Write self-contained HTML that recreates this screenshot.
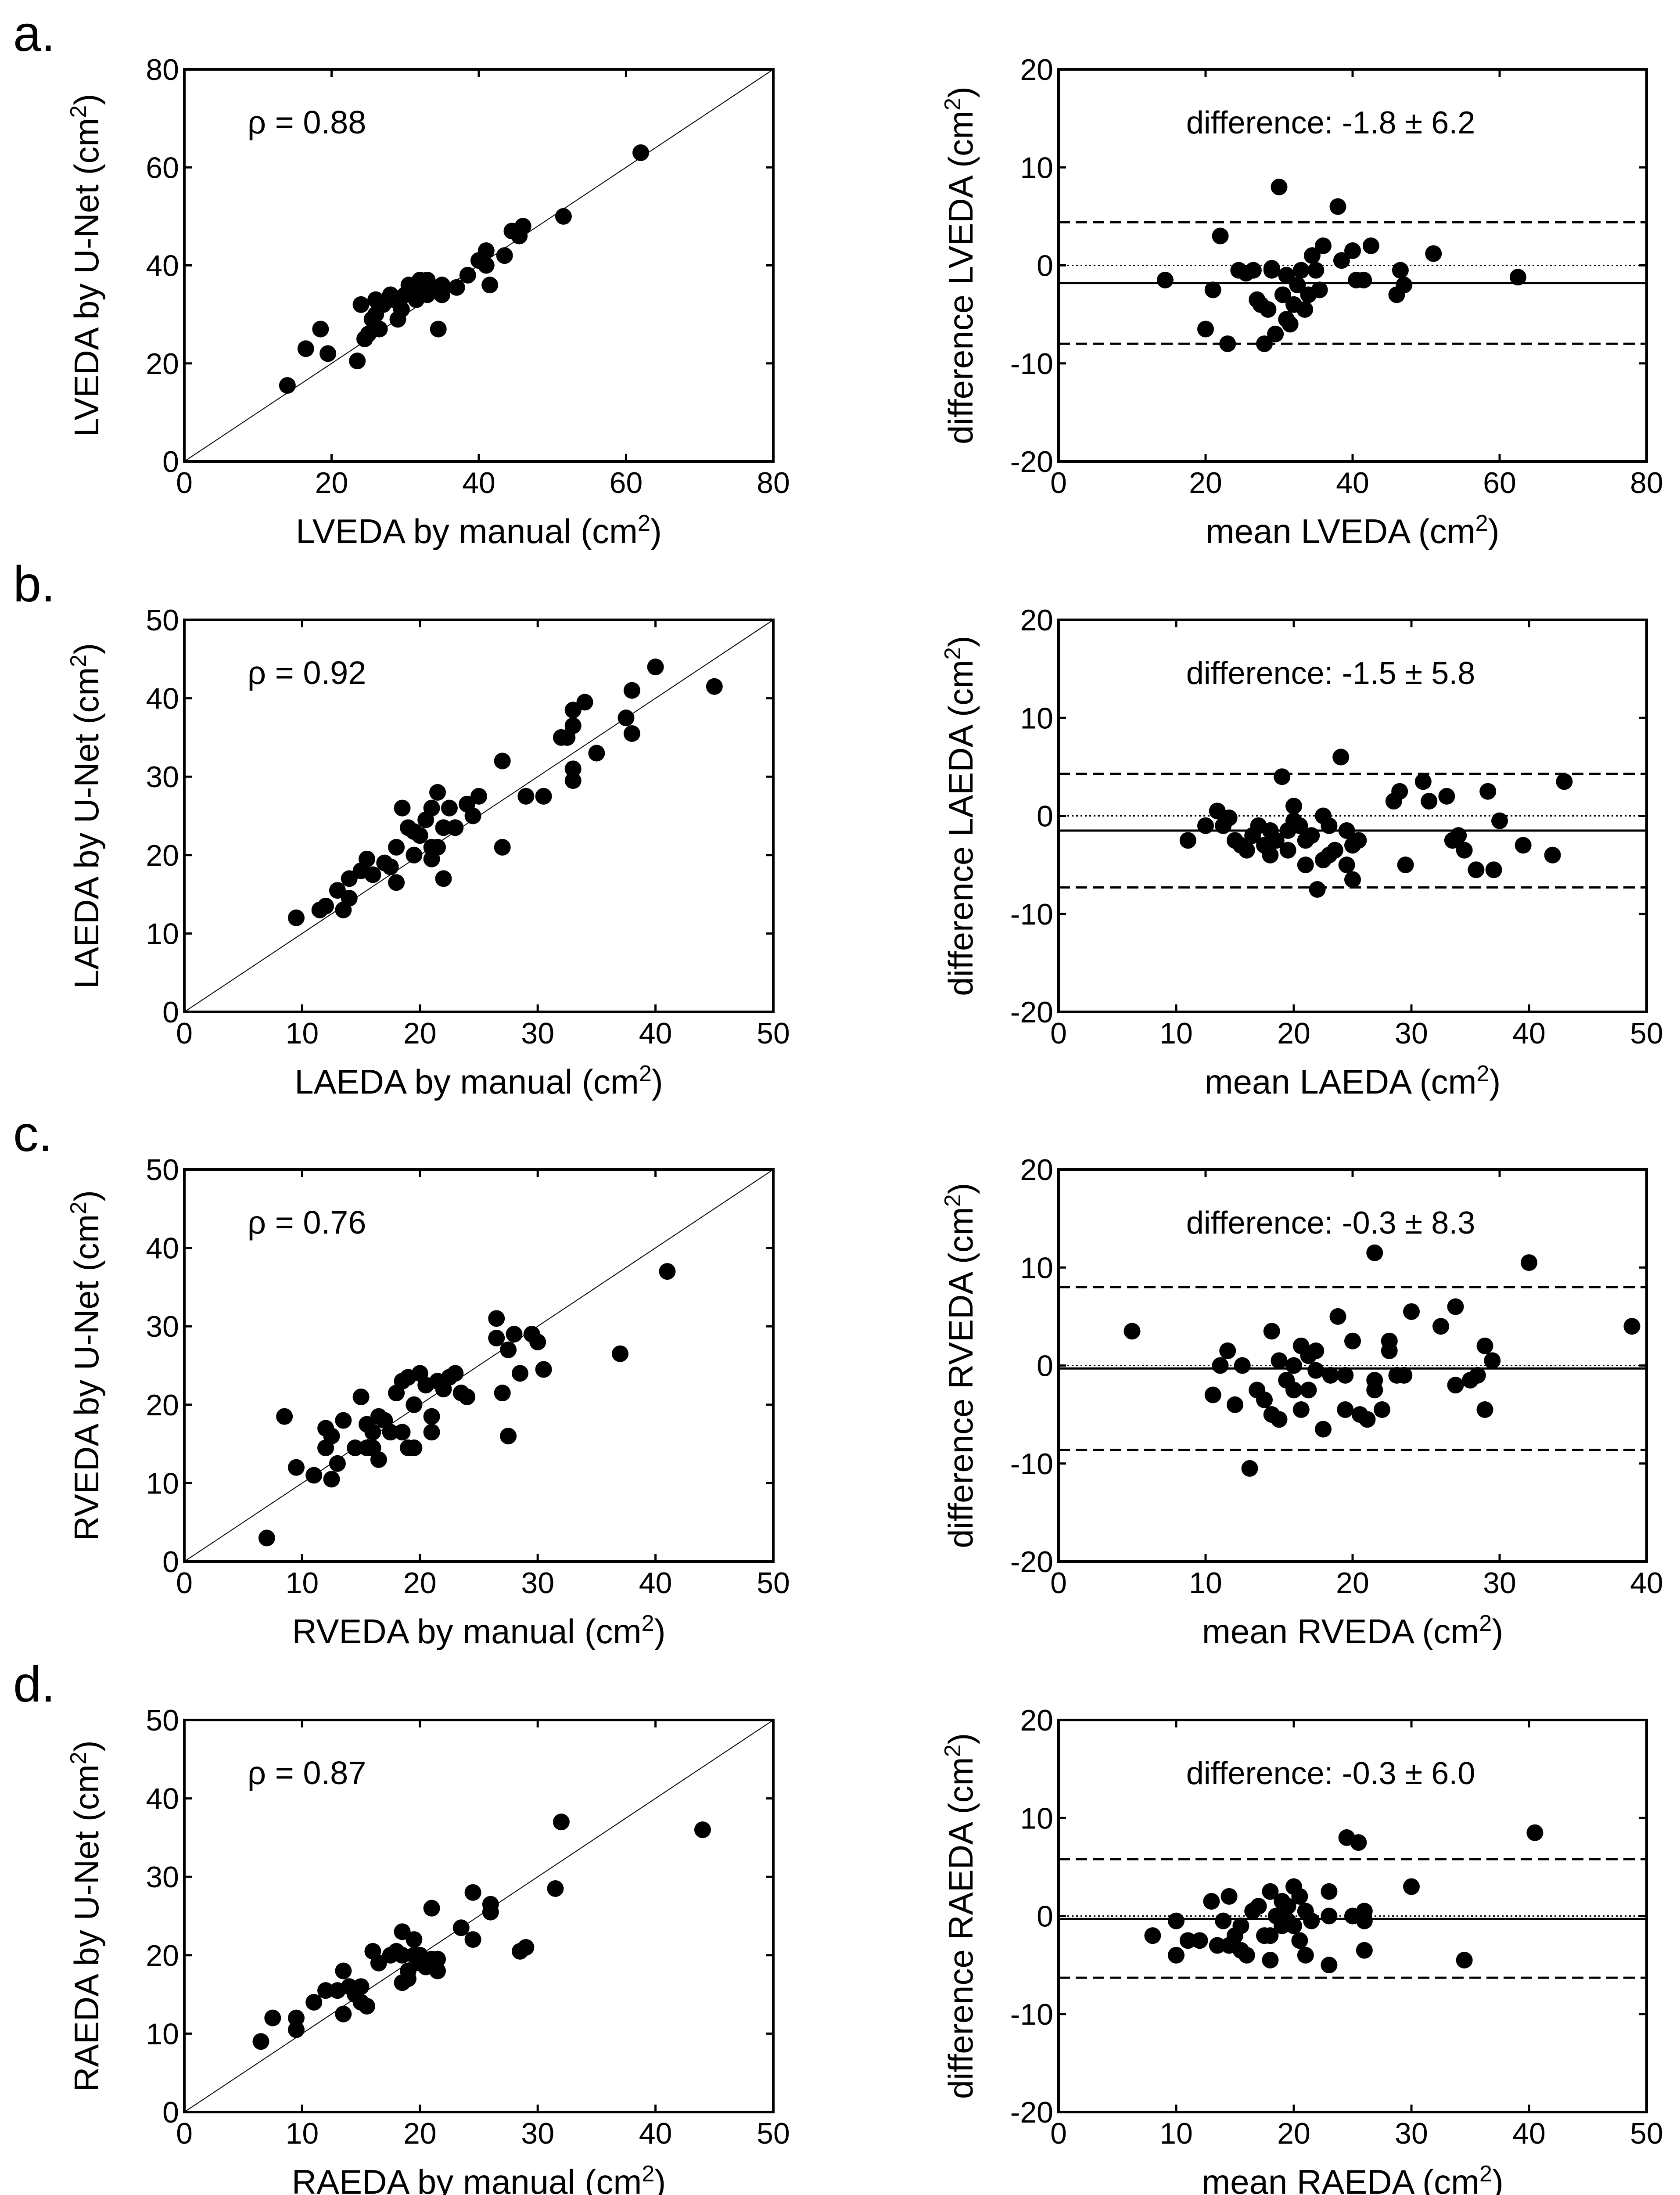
<!DOCTYPE html>
<html><head><meta charset="utf-8">
<style>
html,body{margin:0;padding:0;background:#fff;}
svg{display:block;font-family:"Liberation Sans",Arial,sans-serif;}
</style></head>
<body>
<svg id="fig" width="3828" height="5057" viewBox="0 0 3828 5057" xmlns="http://www.w3.org/2000/svg">
<rect width="3828" height="5057" fill="#fff"/>
</svg>
<script>
// ---- data ----
const aCorrX=[14,16.5,18.5,19.5,23.5,24,24.5,25,25.5,26,26,26.5,27,28,28.5,29,29.5,30,30.5,31,31.5,32,32.5,33,33,34,34.5,35,35,37,38.5,40,41,41,41.5,43.5,44.5,46,45.5,51.5,62];
const aCorrY=[15.5,23,27,22,20.5,32,25,26,29,33,30,27,32,34,33,29,31,34,36,35,33,37,36,34,37,35,27,36,34,35.5,38,41,43,40,36,42,47,48,46,50,63];
const aBaX=[14.5,20,21,22,23,24.5,25.5,26.5,27,28,28.5,29,29.5,30,30.5,31,31,31.5,32,32.5,33,33.5,34,34.5,35,35.5,36,38,38.5,40,40.5,41.5,42.5,46,46.5,47,51,62.5,27.5,29];
const aBaY=[-1.5,-6.5,-2.5,3,-8,-0.5,-0.8,-0.5,-3.5,-8,-4.5,-0.3,-7,8,-3,-1,-5.5,-6,-4,-2,-0.5,-4.5,-3,1,-0.5,-2.5,2,6,0.5,1.5,-1.5,-1.5,2,-3,-0.5,-2,1.2,-1.2,-4,-0.5];
const bCorrX=[9.5,11.5,12,13,13.5,14,14,15,15.5,16,17,17.5,18,18,18.5,19,19.5,20,20.5,21,21,21,21.5,22,22,22.5,23,24,24.5,25,27,27,29,30.5,32,32.5,33,33,33,33,34,35,37.5,38,38,40,45,21.5,19.5];
const bCorrY=[12,13,13.5,15.5,13,14.5,17,18,19.5,17.5,19,18.5,16.5,21,26,23.5,20,22.5,24.5,26,19.5,21,28,23.5,17,26,23.5,26.5,25,27.5,32,21,27.5,27.5,35,35,36.5,38.5,31,29.5,39.5,33,37.5,41,35.5,44,41.5,21,23];
const bBaX=[11,12.5,13.5,14,14.5,15,15.5,16,16.5,17,17.5,18,18,18.5,19,19.5,19.5,20,20.5,21,21,21.5,22,22.5,22.5,23,23,23.5,24,24.5,24.5,25,25,25.5,28.5,29,29.5,31,31.5,33,33.5,34,34.5,35.5,36.5,37,37.5,39.5,42,43,20];
const bBaY=[-2.5,-1,0.5,-1,-0.2,-2.5,-3,-3.5,-2,-1,-3,-1.5,-4,-2.5,4,-3.5,-1.5,1,-1,-2.5,-5,-2,-7.5,0,-4.5,-1,-4,-3.5,6,-5,-1.5,-6.5,-3,-2.5,1.5,2.5,-5,3.5,1.5,2,-2.5,-2,-3.5,-5.5,2.5,-5.5,-0.5,-3,-4,3.5,-0.5];
const cCorrX=[7,8.5,9.5,11,12,12,12.5,12.5,13,13.5,14.5,15,15.5,15.5,16,16.5,16.5,17,17.5,18,18.5,18.5,19,19.5,19.5,20,20.5,21,21,21.5,22,22.5,23,23.5,24,26.5,26.5,27,27.5,27.5,28,28.5,29.5,30,30.5,37,41,19,16];
const cCorrY=[3,18.5,12,11,17,14.5,10.5,16,12.5,18,14.5,21,14.5,17.5,16.5,18.5,13,18,16.5,21.5,23,16.5,23.5,20,14.5,24,22.5,18.5,16.5,23,22,23.5,24,21.5,21,31,28.5,21.5,27,16,29,24,29,28,24.5,26.5,37,14.5,14.5];
const cBaX=[5,10.5,11,11.5,12,12.5,13,13.5,14,14.5,14.5,15,15,15.5,16,16.5,16.5,17,17,17.5,17.5,18,18.5,19,19.5,19.5,20,20.5,21,21.5,21.5,21.5,22,22.5,22.5,23,23.5,24,26,27,27,28,28.5,29,29,29.5,32,39,16];
const cBaY=[3.5,-3,0,1.5,-4,0,-10.5,-2.5,-3.5,3.5,-5,0.5,-5.5,-1.5,-2.5,-4.5,2,-2.5,1,-0.5,1.5,-6.5,-1,5,-4.5,-1,2.5,-5,-5.5,-1.5,11.5,-2.5,-4.5,2.5,1.5,-1,-1,5.5,4,6,-2,-1.5,-1,2,-4.5,0.5,10.5,4,0];
const dCorrX=[6.5,7.5,9.5,9.5,11,12,13,13.5,13.5,14,14.5,15,15,15.5,16,16.5,18.5,18.5,18.5,19,19,19.5,19.5,20,20,20.5,21,21,21.5,21.5,23.5,24.5,24.5,26,26,28.5,29,31.5,32,44,17.5,18];
const dCorrY=[9,12,10.5,12,14,15.5,15.5,12.5,18,16,15,16,14,13.5,20.5,19,23,20,16.5,18,17,22,20,19,20,18.5,19.5,26,19.5,18,23.5,28,22,26.5,25.5,20.5,21,28.5,37,36,20,20.5];
const dBaX=[8,10,10,11,12,13,13.5,14,14.5,14.5,15,15.5,15.5,16,16.5,17,17.5,18,18,18.5,19,19,19.5,19.5,20,20,20.5,20.5,21,21,21.5,23,23,23,24.5,25,25.5,26,26,26,30,34.5,40.5,18];
const dBaY=[-2,-4,-0.5,-2.5,-2.5,1.5,-3,-0.5,2,-3,-2,-1,-3.5,-4,0.5,1,-2,-4.5,2.5,0,-1,1.5,1,-0.5,3,-1,-2.5,2,0.5,-4,-0.5,-5,2.5,0,8,0,7.5,-3.5,0.5,-0.5,3,-4.5,8.5,-2];
const meanDiff=[-1.8,-1.5,-0.3,-0.3];
const sdRange=[6.2,5.8,8.3,6.0];
const rhoVals=["0.88","0.92","0.76","0.87"];
const names=["LVEDA","LAEDA","RVEDA","RAEDA"];
const letters=["a.","b.","c.","d."];
const corrMax=[80,50,50,50];
const corrTicks=[[0,20,40,60,80],[0,10,20,30,40,50],[0,10,20,30,40,50],[0,10,20,30,40,50]];
const baXMax=[80,50,40,50];
const baXTicks=[[0,20,40,60,80],[0,10,20,30,40,50],[0,10,20,30,40],[0,10,20,30,40,50]];
const baYTicks=[-20,-10,0,10,20];
const upperLoA=[4.4,4.3,8.0,5.8];
const lowerLoA=[-8.0,-7.3,-8.6,-6.3];
const corrXs=[aCorrX,bCorrX,cCorrX,dCorrX], corrYs=[aCorrY,bCorrY,cCorrY,dCorrY];
const baXs=[aBaX,bBaX,cBaX,dBaX], baYs=[aBaY,bBaY,cBaY,dBaY];

// ---- drawing ----
const NS="http://www.w3.org/2000/svg";
const svg=document.getElementById('fig');
function el(tag,attrs,parent,text){const e=document.createElementNS(NS,tag);for(const k in attrs)e.setAttribute(k,attrs[k]);if(text!==undefined)e.textContent=text;(parent||svg).appendChild(e);return e;}
const L0=420,L1=1762,R0=2412,R1=3752,H=893,rowTop=[158,1412,2664,3918];
const FS=68, TFS=78;
const SUP='<tspan dy="-28" font-size="52">2</tspan><tspan dy="28">)</tspan>';

function panel(x0,x1,top,xmax,ymin,ymax,xt,yt,kind,i){
  const g=el('g',{});
  
  
  const bot=top+H;
  const sx=v=>x0+v/xmax*(x1-x0);
  const sy=v=>bot-(v-ymin)/(ymax-ymin)*H;
  xt.forEach(t=>{
    const x=sx(t);
    el('line',{x1:x,x2:x,y1:bot,y2:bot-17,stroke:'#000','stroke-width':5},g);
    el('line',{x1:x,x2:x,y1:top,y2:top+17,stroke:'#000','stroke-width':5},g);
    const tl=el('text',{x:x,y:bot+72,'font-size':FS,'text-anchor':'middle'},g,String(t));
    
    
  });
  yt.forEach(t=>{
    const y=sy(t);
    el('line',{x1:x0,x2:x0+17,y1:y,y2:y,stroke:'#000','stroke-width':5},g);
    el('line',{x1:x1,x2:x1-17,y1:y,y2:y,stroke:'#000','stroke-width':5},g);
    const tl=el('text',{x:x0-12,y:y+24,'font-size':FS,'text-anchor':'end'},g,String(t));
    
    
  });
  if(kind==='corr'){
    const ln=el('line',{x1:sx(0),y1:sy(0),x2:sx(xmax),y2:sy(ymax),stroke:'#000','stroke-width':2},g);
    
    
  } else {
    const m=el('line',{x1:x0,x2:x1,y1:sy(meanDiff[i]),y2:sy(meanDiff[i]),stroke:'#000','stroke-width':5},g);
    
    
    const z=el('line',{x1:x0,x2:x1,y1:sy(0),y2:sy(0),stroke:'#000','stroke-width':3,'stroke-dasharray':'4 6'},g);
    
    
    [upperLoA[i],lowerLoA[i]].forEach(v=>{
      const d=el('line',{x1:x0,x2:x1,y1:sy(v),y2:sy(v),stroke:'#000','stroke-width':5,'stroke-dasharray':'26 13'},g);
      
      
    });
  }
  const xs=kind==='corr'?corrXs[i]:baXs[i], ys=kind==='corr'?corrYs[i]:baYs[i];
  xs.forEach((v,k)=>{
    const c=el('circle',{cx:sx(v),cy:sy(ys[k]),r:19,fill:'#000'},g);
    
    
  });
  const fr=el('rect',{x:x0,y:top,width:x1-x0,height:H,fill:'none',stroke:'#000','stroke-width':6},g);
  
  
  if(kind==='corr'){
    const a=el('text',{x:x0+144,y:top+146,'font-size':74},g,'ρ = '+rhoVals[i]);
    
    
    const xtl=el('text',{x:(x0+x1)/2,y:bot+186,'font-size':TFS,'text-anchor':'middle'},g);
    xtl.innerHTML=names[i]+' by manual (cm'+SUP;
    
    
    const ytl=el('text',{x:0,y:0,'font-size':TFS,'text-anchor':'middle',transform:`translate(${x0-196},${top+H/2}) rotate(-90)`},g);
    ytl.innerHTML=names[i]+' by U-Net (cm'+SUP;
    
    
  } else {
    const a=el('text',{x:(x0+x1)/2-50,y:top+146,'font-size':72,'text-anchor':'middle'},g,'difference: '+meanDiff[i].toFixed(1)+' ± '+sdRange[i].toFixed(1));
    
    
    const xtl=el('text',{x:(x0+x1)/2,y:bot+186,'font-size':TFS,'text-anchor':'middle'},g);
    xtl.innerHTML='mean '+names[i]+' (cm'+SUP;
    
    
    const ytl=el('text',{x:0,y:0,'font-size':TFS,'text-anchor':'middle',transform:`translate(${x0-196},${top+H/2}) rotate(-90)`},g);
    ytl.innerHTML='difference '+names[i]+' (cm'+SUP;
    
    
  }
}
for(let i=0;i<4;i++){
  const lt=el('text',{x:30,y:rowTop[i]-42,'font-size':115},svg,letters[i]);
  
  
  panel(L0,L1,rowTop[i],corrMax[i],0,corrMax[i],corrTicks[i],corrTicks[i],'corr',i);
  panel(R0,R1,rowTop[i],baXMax[i],-20,20,baXTicks[i],baYTicks,'ba',i);
}
</script>
</body></html>
